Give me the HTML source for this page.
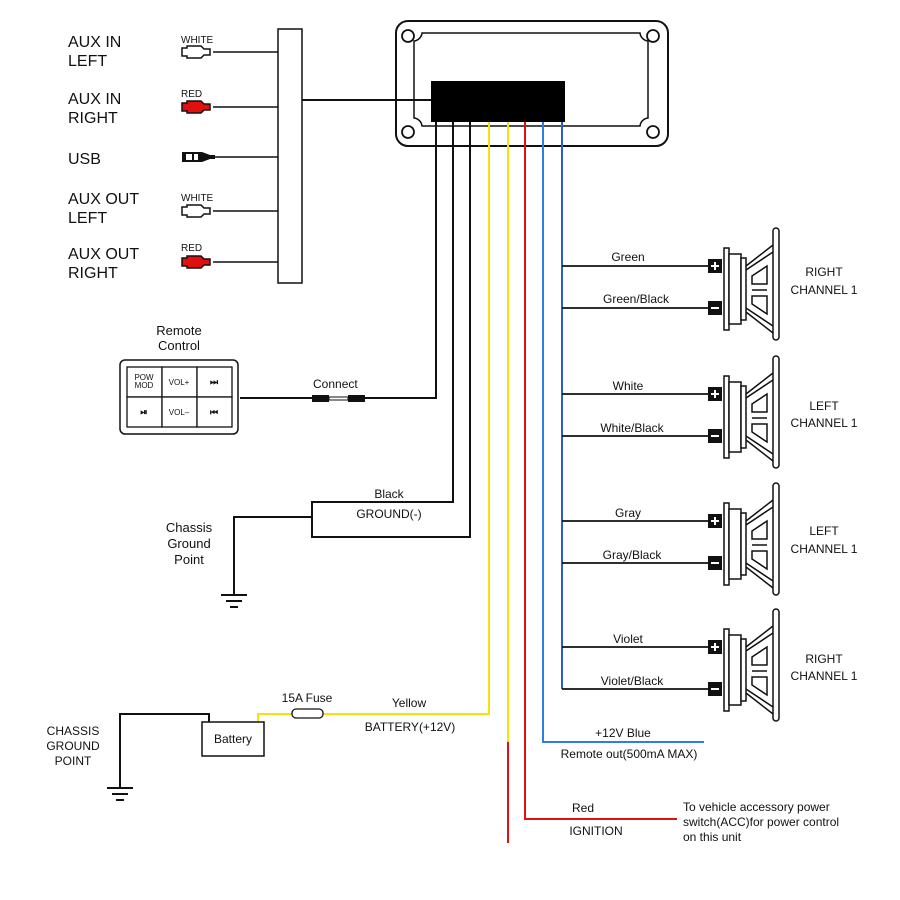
<!DOCTYPE html>
<html><head><meta charset="utf-8"><style>
html,body{margin:0;padding:0;background:#fff;}
svg{display:block;}
text{font-family:"Liberation Sans",Arial,sans-serif;fill:#111;}
</style></head><body>
<svg width="900" height="900" viewBox="0 0 900 900" xmlns="http://www.w3.org/2000/svg">
<defs>
<g id="rca">
  <path d="M0,-4 h5 v-2 h14 l3,3 h6 v6 h-6 l-3,3 h-14 v-2 h-5 z" stroke="#111" stroke-width="1.5"/>
</g>
<g id="spk">
  <rect x="-14" y="-29" width="14" height="14" fill="#111"/>
  <path d="M-11,-22 h8 M-7,-26 v8" stroke="#fff" stroke-width="2"/>
  <rect x="-14" y="13" width="14" height="14" fill="#111"/>
  <path d="M-11,20 h8" stroke="#fff" stroke-width="2"/>
  <rect x="2" y="-40" width="5" height="82" fill="#fff" stroke="#111" stroke-width="1.5"/>
  <rect x="7" y="-34" width="12" height="70" fill="#fff" stroke="#111" stroke-width="1.5"/>
  <rect x="19" y="-30" width="5" height="62" fill="#fff" stroke="#111" stroke-width="1.5"/>
  <path d="M24,-22 L51,-43 M24,24 L51,45 M24,-18 L51,-36 M24,20 L51,38" stroke="#111" stroke-width="1.5" fill="none"/>
  <path d="M30,-12 L45,-22 L45,-4 L30,-4 Z M30,8 L45,8 L45,26 L30,16 Z" stroke="#111" stroke-width="1.5" fill="none"/>
  <path d="M30,2 h15" stroke="#111" stroke-width="1.5"/>
  <rect x="51" y="-60" width="6" height="112" rx="3" fill="#fff" stroke="#111" stroke-width="1.5"/>
</g>
<g id="gnd">
  <path d="M-13,0 h26 M-8,6 h16 M-4,12 h8" stroke="#111" stroke-width="2"/>
</g>
</defs>

<!-- head unit -->
<rect x="396" y="21" width="272" height="125" rx="12" fill="#fff" stroke="#111" stroke-width="2"/>
<path d="M422,33 H640 a9,9 0 0 0 8,8 V118 a9,9 0 0 0 -8,8 H422 a9,9 0 0 0 -8,-8 V41 a9,9 0 0 0 8,-8 Z" fill="none" stroke="#111" stroke-width="1.5"/>
<circle cx="408" cy="36" r="6" fill="none" stroke="#111" stroke-width="1.8"/>
<circle cx="653" cy="36" r="6" fill="none" stroke="#111" stroke-width="1.8"/>
<circle cx="408" cy="132" r="6" fill="none" stroke="#111" stroke-width="1.8"/>
<circle cx="653" cy="132" r="6" fill="none" stroke="#111" stroke-width="1.8"/>
<rect x="431" y="81" width="134" height="41" fill="#000"/>

<!-- aux bar -->
<rect x="278" y="29" width="24" height="254" fill="#fff" stroke="#111" stroke-width="1.5"/>
<path d="M302,100 H431" stroke="#111" stroke-width="2"/>
<g stroke="#111" stroke-width="1.5">
<path d="M213,52 H278 M213,107 H278 M213,157 H278 M213,211 H278 M213,262 H278"/>
</g>
<use href="#rca" x="182" y="52" fill="#fff"/>
<use href="#rca" x="182" y="107" fill="#e01010"/>
<use href="#rca" x="182" y="262" fill="#e01010"/>
<use href="#rca" x="182" y="211" fill="#fff"/>
<path d="M182,152 h20 l8,3 h5 v4 h-5 l-8,3 h-20 z" fill="#111"/>
<rect x="186" y="154" width="6" height="6" fill="#fff"/><rect x="194" y="154" width="4" height="6" fill="#fff"/>

<g font-size="16">
<text x="68" y="47">AUX IN</text><text x="68" y="66">LEFT</text>
<text x="68" y="104">AUX IN</text><text x="68" y="123">RIGHT</text>
<text x="68" y="164">USB</text>
<text x="68" y="204">AUX OUT</text><text x="68" y="223">LEFT</text>
<text x="68" y="259">AUX OUT</text><text x="68" y="278">RIGHT</text>
</g>
<g font-size="10">
<text x="181" y="43">WHITE</text><text x="181" y="97">RED</text>
<text x="181" y="201">WHITE</text><text x="181" y="251">RED</text>
</g>

<!-- wires from unit -->
<g fill="none" stroke-width="2">
<path d="M436,122 V398 H365" stroke="#111"/>
<path d="M453,122 V502 H312 V537 H470 V122" stroke="#111"/>
<path d="M312,517 H234 V595" stroke="#111"/>
<path d="M489,122 V714 H320 M300,714 H258 V722" stroke="#f4e20a"/>
<path d="M508,122 V742" stroke="#f4e20a"/>
<path d="M508,742 V843" stroke="#e01010"/>
<path d="M525,122 V819 H677" stroke="#e01010"/>
<path d="M543,122 V742 H704" stroke="#2a7fe0"/>
<path d="M562,122 V689" stroke="#2a60c8"/>
<path d="M562,266 H708 M562,308 H708 M562,394 H708 M562,436 H708 M562,521 H708 M562,563 H708 M562,647 H708 M562,689 H708" stroke="#111" stroke-width="1.8"/>
<path d="M240,398 H312" stroke="#111"/>
<path d="M120,787 V714 H209 V722" stroke="#111"/>
</g>
<use href="#gnd" x="234" y="595"/>
<use href="#gnd" x="120" y="788"/>

<!-- connector -->
<rect x="312" y="395" width="17" height="7" fill="#111"/>
<rect x="329" y="397" width="19" height="3" fill="#fff" stroke="#111" stroke-width="1"/>
<rect x="348" y="395" width="17" height="7" fill="#111"/>
<text x="313" y="388" font-size="12">Connect</text>

<!-- remote -->
<text x="179" y="335" font-size="13" text-anchor="middle">Remote</text>
<text x="179" y="350" font-size="13" text-anchor="middle">Control</text>
<rect x="120" y="360" width="118" height="74" rx="5" fill="#fff" stroke="#111" stroke-width="1.5"/>
<g fill="#fff" stroke="#111" stroke-width="1.3">
<rect x="127" y="367" width="35" height="30"/><rect x="162" y="367" width="35" height="30"/><rect x="197" y="367" width="35" height="30"/>
<rect x="127" y="397" width="35" height="30"/><rect x="162" y="397" width="35" height="30"/><rect x="197" y="397" width="35" height="30"/>
</g>
<g font-size="8" text-anchor="middle">
<text x="144" y="380">POW</text><text x="144" y="388">MOD</text>
<text x="179" y="385">VOL+</text><text x="179" y="415">VOL–</text>
<text x="214" y="385" font-size="9" font-weight="bold">⏭</text>
<text x="144" y="415" font-size="9" font-weight="bold">⏯</text>
<text x="214" y="415" font-size="9" font-weight="bold">⏮</text>
</g>

<text x="389" y="498" font-size="12" text-anchor="middle">Black</text>
<text x="389" y="518" font-size="12" text-anchor="middle">GROUND(-)</text>
<g font-size="13" text-anchor="middle">
<text x="189" y="532">Chassis</text><text x="189" y="548">Ground</text><text x="189" y="564">Point</text>
</g>

<!-- battery -->
<rect x="202" y="722" width="62" height="34" fill="#fff" stroke="#111" stroke-width="1.5"/>
<text x="233" y="743" font-size="12" text-anchor="middle">Battery</text>
<rect x="292" y="709" width="31" height="9" rx="4" fill="#fff" stroke="#111" stroke-width="1.3"/>
<text x="307" y="702" font-size="12" text-anchor="middle">15A Fuse</text>
<text x="409" y="707" font-size="12" text-anchor="middle">Yellow</text>
<text x="410" y="731" font-size="12" text-anchor="middle">BATTERY(+12V)</text>
<g font-size="12" text-anchor="middle">
<text x="73" y="735">CHASSIS</text><text x="73" y="750">GROUND</text><text x="73" y="765">POINT</text>
</g>

<!-- speakers -->
<use href="#spk" x="722" y="288"/>
<use href="#spk" x="722" y="416"/>
<use href="#spk" x="722" y="543"/>
<use href="#spk" x="722" y="669"/>
<g font-size="12" text-anchor="middle">
<text x="628" y="261">Green</text><text x="636" y="303">Green/Black</text>
<text x="628" y="390">White</text><text x="632" y="432">White/Black</text>
<text x="628" y="517">Gray</text><text x="632" y="559">Gray/Black</text>
<text x="628" y="643">Violet</text><text x="632" y="685">Violet/Black</text>
<text x="824" y="276">RIGHT</text><text x="824" y="294">CHANNEL 1</text>
<text x="824" y="410">LEFT</text><text x="824" y="427">CHANNEL 1</text>
<text x="824" y="535">LEFT</text><text x="824" y="553">CHANNEL 1</text>
<text x="824" y="663">RIGHT</text><text x="824" y="680">CHANNEL 1</text>
<text x="623" y="737">+12V Blue</text>
<text x="629" y="758">Remote out(500mA MAX)</text>
<text x="583" y="812">Red</text>
<text x="596" y="835">IGNITION</text>
</g>
<g font-size="12">
<text x="683" y="811">To vehicle accessory power</text>
<text x="683" y="826">switch(ACC)for power control</text>
<text x="683" y="841">on this unit</text>
</g>
</svg>
</body></html>
